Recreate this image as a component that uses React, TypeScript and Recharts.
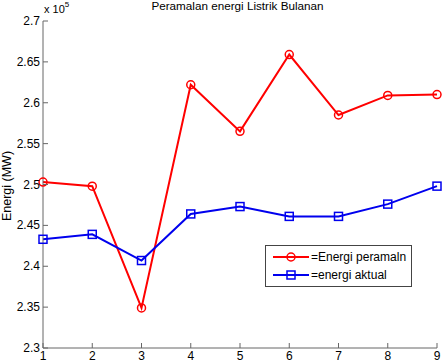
import React from "react";
import { LineChart, Line, XAxis, YAxis } from "recharts";

// bulan ke-1..9, nilai energi dalam MW (sumbu ditampilkan x 10^5)
const bulan = [1, 2, 3, 4, 5, 6, 7, 8, 9];
const energiPeramalan = [250300, 249800, 234900, 262200, 256500, 265900, 258500, 260900, 261000];
const energiAktual = [243300, 243900, 240700, 246400, 247300, 246100, 246100, 247600, 249800];
const yTicks = [230000, 235000, 240000, 245000, 250000, 255000, 260000, 265000, 270000];

const data = bulan.map((b, i) => ({ bulan: b, peramalan: energiPeramalan[i], aktual: energiAktual[i] }));

const FONT = "'Liberation Sans', Arial, sans-serif";
const AXIS = "#666";
const RED = "#ff0000";
const BLUE = "#0000ee";
const TICK_LEN = 5;

const fmtY = (v: number) => String(+(v / 1e5).toFixed(2));

function BottomTick({ x, y, payload }: any) {
  return (
    <g>
      <line x1={x} y1={y} x2={x} y2={y - TICK_LEN} stroke={AXIS} />
      <text x={x} y={y + 12} textAnchor="middle" fontSize={12} fontFamily={FONT} fill="#000">
        {payload.value}
      </text>
    </g>
  );
}

function TopTick({ x, y }: any) {
  return <line x1={x} y1={y} x2={x} y2={y + TICK_LEN} stroke={AXIS} />;
}

function LeftTick({ x, y, payload }: any) {
  return (
    <g>
      <line x1={x} y1={y} x2={x + TICK_LEN} y2={y} stroke={AXIS} />
      <text x={x - 3} y={y + 4} textAnchor="end" fontSize={12} fontFamily={FONT} fill="#000">
        {fmtY(payload.value)}
      </text>
    </g>
  );
}

function RightTick({ x, y }: any) {
  return <line x1={x} y1={y} x2={x - TICK_LEN} y2={y} stroke={AXIS} />;
}

function SquareDot(props: any) {
  const { cx, cy, index } = props;
  return <rect key={`sq-${index}`} x={cx - 4} y={cy - 4} width={8} height={8} fill="none" stroke={BLUE} strokeWidth={1.5} />;
}

function LegendBox() {
  const rows = [
    { label: "=Energi peramaln", color: RED, marker: "circle" },
    { label: "=energi aktual", color: BLUE, marker: "square" },
  ];
  return (
    <div
      style={{
        position: "absolute",
        left: 265,
        top: 245,
        width: 147,
        height: 42,
        boxSizing: "border-box",
        border: "1px solid #444",
        background: "#fff",
        padding: "2px 3px",
        fontFamily: FONT,
        fontSize: 12,
        whiteSpace: "nowrap",
      }}
    >
      {rows.map((r) => (
        <div key={r.label} style={{ display: "flex", alignItems: "center", height: 18 }}>
          <svg width={40} height={12} style={{ marginRight: 2, flexShrink: 0 }}>
            <line x1={4} y1={6} x2={40} y2={6} stroke={r.color} strokeWidth={2} />
            {r.marker === "circle" ? (
              <circle cx={22} cy={6} r={4} fill="none" stroke={r.color} strokeWidth={1.5} />
            ) : (
              <rect x={18} y={2} width={8} height={8} fill="none" stroke={r.color} strokeWidth={1.5} />
            )}
          </svg>
          <span style={{ whiteSpace: "nowrap" }}>{r.label}</span>
        </div>
      ))}
    </div>
  );
}

export default function App() {
  return (
    <div style={{ position: "absolute", left: 0, top: 0, width: 442, height: 363, background: "#fff" }}>
      <LineChart width={442} height={363} data={data} margin={{ top: 21, right: 5, bottom: 0, left: 0 }}>
        <XAxis
          dataKey="bulan"
          type="number"
          domain={[1, 9]}
          ticks={bulan}
          height={15}
          tickSize={0}
          tickMargin={0}
          tickLine={false}
          stroke={AXIS}
          tick={<BottomTick />}
        />
        <XAxis
          xAxisId="top"
          orientation="top"
          dataKey="bulan"
          type="number"
          domain={[1, 9]}
          ticks={bulan}
          height={0}
          tickSize={0}
          tickMargin={0}
          tickLine={false}
          stroke={AXIS}
          tick={<TopTick />}
        />
        <YAxis
          type="number"
          domain={[230000, 270000]}
          ticks={yTicks}
          width={43}
          tickSize={0}
          tickMargin={0}
          tickLine={false}
          stroke={AXIS}
          tick={<LeftTick />}
        />
        <YAxis
          yAxisId="right"
          orientation="right"
          type="number"
          domain={[230000, 270000]}
          ticks={yTicks}
          width={0}
          tickSize={0}
          tickMargin={0}
          tickLine={false}
          stroke={AXIS}
          tick={<RightTick />}
        />
        <Line
          dataKey="peramalan"
          name="=Energi peramaln"
          stroke={RED}
          strokeWidth={2}
          dot={{ r: 4, fill: "none", stroke: RED, strokeWidth: 1.5 }}
          isAnimationActive={false}
        />
        <Line
          dataKey="aktual"
          name="=energi aktual"
          stroke={BLUE}
          strokeWidth={2}
          dot={SquareDot}
          isAnimationActive={false}
        />
      </LineChart>
      <LegendBox />
      <div style={{ position: "absolute", left: 0, top: 0, width: 475, textAlign: "center", fontFamily: FONT, fontSize: 11.7, lineHeight: "12px" }}>
        Peramalan energi Listrik Bulanan
      </div>
      <div style={{ position: "absolute", left: 44, top: 3, fontFamily: FONT, fontSize: 11, lineHeight: "12px" }}>
        x 10<sup style={{ fontSize: 8, verticalAlign: "top", position: "relative", top: -4 }}>5</sup>
      </div>
      <div
        style={{
          position: "absolute",
          left: 7,
          top: 186,
          transform: "translate(-50%, -50%) rotate(-90deg)",
          whiteSpace: "nowrap",
          fontFamily: FONT,
          fontSize: 12.5,
        }}
      >
        Energi (MW)
      </div>
    </div>
  );
}
